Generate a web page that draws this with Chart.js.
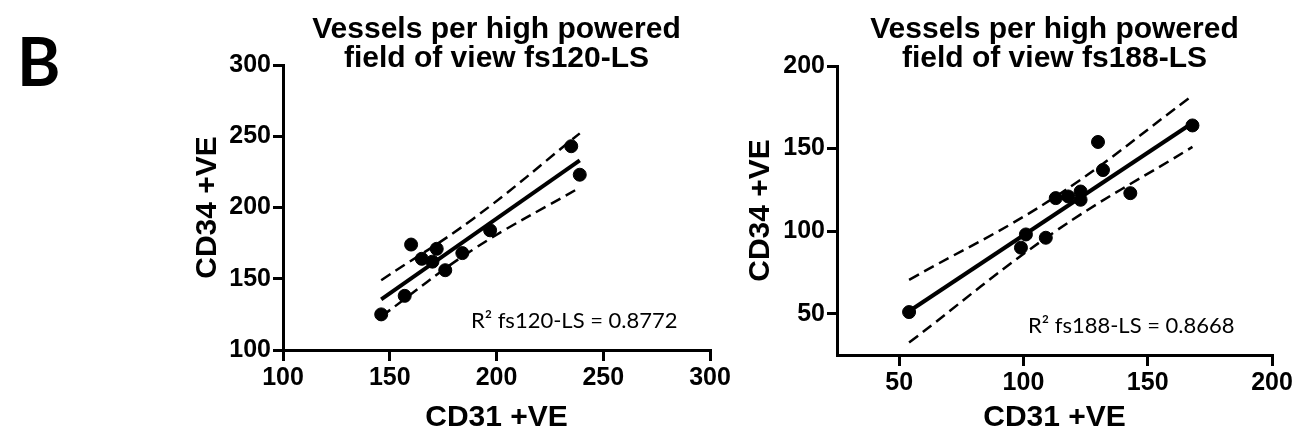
<!DOCTYPE html>
<html>
<head>
<meta charset="utf-8">
<script src="https://cdn.jsdelivr.net/npm/chart.js@4.4.0/dist/chart.umd.min.js"></script>
<style>
  body { margin: 0; background: #fff; width: 1310px; height: 438px; overflow: hidden; position: relative; }
  canvas { position: absolute; left: 0; top: 0; }
</style>
</head>
<body>
<canvas id="chartA" width="1310" height="438"></canvas>
<canvas id="chartB" width="1310" height="438"></canvas>
<script>
// fs120-LS panel
const cd31_fs120 = [146, 157, 160, 165, 170, 172, 176, 184, 197, 235, 239];
const cd34_fs120 = [125, 138, 174, 164, 162, 171, 156, 168, 184, 243, 223];
const fitX_fs120 = [146, 239];
const fitY_fs120 = [135.5, 233];
const bandX_fs120 = [146, 189, 239];
const upperY_fs120 = [149, 192, 252];
const lowerY_fs120 = [123.5, 170.5, 214];
const ticks_fs120 = [100, 150, 200, 250, 300];

// fs188-LS panel
const cd31_fs188 = [54, 99, 101, 109, 113, 118, 123, 123, 130, 132, 143, 168];
const cd34_fs188 = [51, 90, 98, 96, 120, 121, 124, 119, 154, 137, 123, 164];
const fitX_fs188 = [54, 168];
const fitY_fs188 = [51.5, 165.5];
const bandX_fs188 = [54, 112, 168];
const upperY_fs188 = [70.5, 120, 182];
const lowerY_fs188 = [32.5, 99, 151];
const xTicks_fs188 = [50, 100, 150, 200];
const yTicks_fs188 = [50, 100, 150, 200];

Chart.defaults.font.family = '"Liberation Sans", Arial, sans-serif';
Chart.defaults.color = '#000';

const pts = (xs, ys) => xs.map((x, i) => ({ x: x, y: ys[i] }));

// R² text + panel letter
const annotate = {
    id: 'annotate',
    afterDraw(chart, args, opts) {
        const { ctx, scales: { x, y } } = chart;
        ctx.save();
        ctx.fillStyle = '#000';
        ctx.textBaseline = 'alphabetic';
        ctx.font = '22px Lato';
        ctx.fillText(opts.text, x.getPixelForValue(opts.x), y.getPixelForValue(opts.y));
        if (opts.letter) {
            ctx.font = 'bold 66px Lato';
            ctx.fillText(opts.letter, 17, 86);
        }
        ctx.restore();
    }
};

function axis(min, max, tickVals, fitSize, horizontal, titleText) {
    return {
        type: 'linear',
        min: min,
        max: max,
        afterBuildTicks: s => { s.ticks = tickVals.map(v => ({ value: v })); },
        afterFit: s => { if (horizontal) s.height = fitSize; else s.width = fitSize; },
        border: { display: true, color: '#000', width: 3 },
        grid: { drawOnChartArea: false, color: '#000', lineWidth: 3, tickLength: horizontal ? 11 : 10 },
        ticks: { color: '#000', font: { size: 25, weight: 'bold' }, padding: 2, maxRotation: 0 },
        title: { display: true, text: titleText, color: '#000', font: { size: 30, weight: 'bold' }, padding: { top: 0, bottom: 0 } }
    };
}

function makeChart(id, d) {
    return new Chart(document.getElementById(id), {
        type: 'scatter',
        data: {
            datasets: [
                { data: pts(d.xs, d.ys), pointRadius: 6.5, backgroundColor: '#000', borderColor: '#000', showLine: false },
                { data: pts(d.fitX, d.fitY), showLine: true, borderColor: '#000', borderWidth: 4, pointRadius: 0 },
                { data: pts(d.bandX, d.upper), showLine: true, borderColor: '#000', borderWidth: 2.5, borderDash: [11, 6], pointRadius: 0, tension: 0.4 },
                { data: pts(d.bandX, d.lower), showLine: true, borderColor: '#000', borderWidth: 2.5, borderDash: [11, 6], pointRadius: 0, tension: 0.4 }
            ]
        },
        options: {
            responsive: false,
            animation: false,
            devicePixelRatio: 1,
            layout: { padding: d.padding },
            scales: {
                x: axis(d.xMin, d.xMax, d.xTicks, d.xHeight, true, 'CD31 +VE'),
                y: axis(d.yMin, d.yMax, d.yTicks, d.yWidth, false, 'CD34 +VE')
            },
            plugins: {
                legend: { display: false },
                tooltip: { enabled: false },
                title: {
                    display: true,
                    fullSize: false,
                    text: d.title,
                    color: '#000',
                    font: { size: 30, weight: 'bold', lineHeight: 0.97 },
                    padding: d.titlePad
                },
                annotate: d.note
            }
        },
        plugins: [annotate]
    });
}

makeChart('chartA', {
    xs: cd31_fs120, ys: cd34_fs120,
    fitX: fitX_fs120, fitY: fitY_fs120,
    bandX: bandX_fs120, upper: upperY_fs120, lower: lowerY_fs120,
    xMin: 100, xMax: 300, xTicks: ticks_fs120,
    yMin: 100, yMax: 300, yTicks: ticks_fs120,
    xHeight: 86, yWidth: 93,
    padding: { left: 190, right: 600, top: 0, bottom: 2 },
    title: ['Vessels per high powered', 'field of view fs120-LS'],
    titlePad: { top: 15.5, bottom: -8.7 },
    note: { text: 'R² fs120-LS = 0.8772', x: 188, y: 115.4, letter: 'B' }
});

makeChart('chartB', {
    xs: cd31_fs188, ys: cd34_fs188,
    fitX: fitX_fs188, fitY: fitY_fs188,
    bandX: bandX_fs188, upper: upperY_fs188, lower: lowerY_fs188,
    xMin: 25, xMax: 200, xTicks: xTicks_fs188,
    yMin: 25, yMax: 200, yTicks: yTicks_fs188,
    xHeight: 81, yWidth: 94,
    padding: { left: 743, right: 38, top: 0, bottom: 2 },
    title: ['Vessels per high powered', 'field of view fs188-LS'],
    titlePad: { top: 15.5, bottom: -7.7 },
    note: { text: 'R² fs188-LS = 0.8668', x: 101.8, y: 38.3 }
});
</script>
</body>
</html>
